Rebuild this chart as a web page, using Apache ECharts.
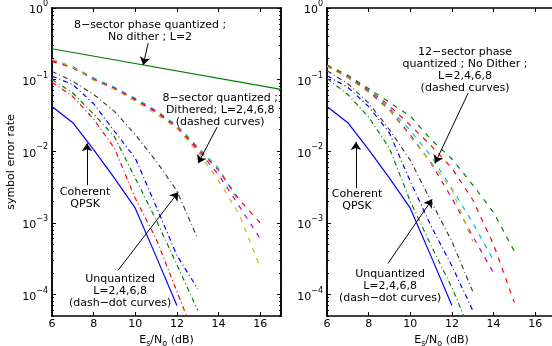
<!DOCTYPE html>
<html>
<head>
<meta charset="utf-8">
<script src="https://cdn.jsdelivr.net/npm/echarts@6/dist/echarts.min.js"></script>
<style>
  html, body { margin: 0; padding: 0; background: #fff; }
  #chart { width: 552px; height: 346px; }
</style>
</head>
<body>
<div id="chart"></div>
<script>
// x values (Es/No in dB)
const snr = [6, 7, 8, 9, 10, 11, 12, 13, 14, 15, 16];
const snrTicks = [6, 8, 10, 12, 14, 16];
const decadeTicks = [1e-4, 1e-3, 1e-2, 1e-1, 1];

// coherent QPSK (both panels)
const coherentQpsk = [0.042, 0.025, 0.0105, 0.0042, 0.0016, 3.4e-4, 7e-5];

// left panel: 8-sector, no dither, L=2 (solid green)
const noDitherX = [6, 17];
const noDitherL2 = [0.27, 0.073];

// left panel: 8-sector dithered, L=2,4,6,8 (dashed)
const dith8Cyan = [0.19, 0.152, 0.106, 0.078, 0.055, 0.037, 0.023, 0.0115, 0.0058, 0.0019];
const dith8Red = [0.18, 0.145, 0.102, 0.075, 0.053, 0.036, 0.022, 0.011, 0.0054, 0.0021, 0.001];
const dith8Magenta = [0.185, 0.148, 0.1, 0.076, 0.052, 0.035, 0.021, 0.0105, 0.0047, 0.0017, 0.0006];
const dith8Yellow = [0.192, 0.15, 0.098, 0.073, 0.05, 0.033, 0.021, 0.0098, 0.0039, 0.0013, 0.00024];

// left panel: unquantized L=2,4,6,8 (dash-dot)
const unqLeftRed = [0.092, 0.058, 0.028, 0.011, 0.0022, 6e-4, 1.1e-4, 2e-5];
const unqLeftGreen = [0.1, 0.065, 0.033, 0.016, 0.0042, 0.0011, 2.6e-4, 6e-5];
const unqLeftBlue = [0.112, 0.085, 0.046, 0.019, 0.008, 0.0017, 3.5e-4, 1.2e-4];
const unqLeftBlack = [0.13, 0.095, 0.062, 0.036, 0.017, 0.0073, 0.0028, 6e-4];

// right panel: 12-sector, no dither, L=2,4,6,8 (dashed)
const q12Green = [0.16, 0.115, 0.075, 0.048, 0.031, 0.0145, 0.0078, 0.0034, 0.0014, 0.0004];
const q12Red = [0.158, 0.112, 0.072, 0.043, 0.023, 0.012, 0.0058, 0.0021, 0.0005, 7.7e-5];
const q12Cyan = [0.156, 0.11, 0.07, 0.04, 0.0196, 0.0085, 0.003, 0.001, 0.0003];
const q12Magenta = [0.155, 0.108, 0.068, 0.038, 0.017, 0.0068, 0.0022, 0.00065, 0.0002];
const q12Yellow = [0.152, 0.106, 0.066, 0.037, 0.016, 0.007, 0.0029, 0.00055];

// right panel: unquantized (dash-dot)
const unqRightGreen = [0.104, 0.062, 0.03, 0.011, 0.002, 4.8e-4, 1.25e-4, 2.5e-5];
const unqRightBlue = [0.113, 0.078, 0.042, 0.018, 0.0038, 9e-4, 2.5e-4, 6e-5];
const unqRightBlack = [0.133, 0.088, 0.047, 0.02, 0.0075, 0.002, 5.5e-4, 1.1e-4];

// annotations in data coords
const leftNotes = [
  { at: [10.71, 0.477], text: '8\u2212sector phase quantized ;\nNo dither ; L=2' },
  { at: [14.08, 0.0374], text: '8\u2212sector quantized ;\nDithered; L=2,4,6,8\n(dashed curves)' },
  { at: [7.59, 0.00224], text: 'Coherent\nQPSK' },
  { at: [9.27, 1.12e-4], text: 'Unquantized\nL=2,4,6,8\n(dash\u2212dot curves)' }
];
const leftArrows = [
  [[10.62, 0.324], [10.38, 0.16]],
  [[13.93, 0.0217], [13.02, 0.00679]],
  [[7.68, 0.00334], [7.68, 0.0129]],
  [[9.17, 2.17e-4], [12.06, 0.00267]]
];
const rightNotes = [
  { at: [12.63, 0.134], text: '12\u2212sector phase\nquantized ; No Dither ;\nL=2,4,6,8\n(dashed curves)' },
  { at: [7.44, 0.00206], text: 'Coherent\nQPSK' },
  { at: [9.03, 1.31e-4], text: 'Unquantized\nL=2,4,6,8\n(dash\u2212dot curves)' }
];
const rightArrows = [
  [[12.78, 0.0648], [11.19, 0.00679]],
  [[7.39, 0.00304], [7.39, 0.0134]],
  [[8.93, 2.71e-4], [11.05, 0.00213]]
];

const FONT = 'DejaVu Sans';
const C = { b: '#0000ff', g: '#008000', r: '#ff0000', c: '#00bfbf', m: '#bf00bf', y: '#bfbf00', k: '#404040' };
const DASH = [5, 6];
const DASHDOT = [5, 3, 1, 3];

const minorTicks = [];
for (let k = -5; k <= -1; k++) {
  for (let m = 2; m <= 9; m++) {
    const v = m * Math.pow(10, k);
    if (v >= 5e-5) minorTicks.push(v);
  }
}

const axisLine = { show: true, lineStyle: { color: '#000', width: 1.5 } };

function expLabel(v) {
  const e = Math.round(Math.log10(v));
  return '{b|10}{e|' + (e === 0 ? '0' : '\u2212' + (-e)) + '}';
}

function yAxes(gridIndex) {
  const base = { type: 'log', logBase: 10, min: 5e-5, max: 1, gridIndex, splitLine: { show: false }, axisLine };
  return [
    Object.assign({}, base, {
      position: 'left',
      axisTick: { inside: true, length: 4, customValues: decadeTicks, lineStyle: { color: '#000' } },
      axisLabel: {
        customValues: decadeTicks, margin: 4, formatter: expLabel,
        rich: {
          b: { fontFamily: FONT, fontSize: 11, color: '#000', lineHeight: 16, verticalAlign: 'bottom' },
          e: { fontFamily: FONT, fontSize: 8, color: '#000', lineHeight: 16, verticalAlign: 'top' }
        }
      },
      name: gridIndex === 0 ? 'symbol error rate' : '',
      nameLocation: 'middle', nameRotate: 90, nameGap: 35,
      nameTextStyle: { fontFamily: FONT, fontSize: 11, color: '#000' }
    }),
    Object.assign({}, base, {
      position: 'left', axisLabel: { show: false },
      axisTick: { inside: true, length: 2, customValues: minorTicks, lineStyle: { color: '#000' } }
    }),
    Object.assign({}, base, {
      position: 'right', axisLabel: { show: false },
      axisTick: { inside: true, length: 4, customValues: decadeTicks, lineStyle: { color: '#000' } }
    }),
    Object.assign({}, base, {
      position: 'right', axisLabel: { show: false },
      axisTick: { inside: true, length: 2, customValues: minorTicks, lineStyle: { color: '#000' } }
    })
  ];
}

function xAxes(gridIndex) {
  const base = { type: 'value', min: 6, max: 17, gridIndex, splitLine: { show: false }, axisLine };
  return [
    Object.assign({}, base, {
      position: 'bottom',
      axisTick: { inside: true, length: 4, customValues: snrTicks, lineStyle: { color: '#000' } },
      axisLabel: { customValues: snrTicks, margin: 3, color: '#000', fontFamily: FONT, fontSize: 11 },
      name: '{a|E}{s|s}{a|/N}{s|o}{a| (dB)}',
      nameLocation: 'middle', nameGap: 14,
      nameTextStyle: {
        rich: {
          a: { fontFamily: FONT, fontSize: 11, color: '#000', lineHeight: 14 },
          s: { fontFamily: FONT, fontSize: 8, color: '#000', padding: [8, 0, 0, 0] }
        }
      }
    }),
    Object.assign({}, base, {
      position: 'top', axisLabel: { show: false },
      axisTick: { inside: true, length: 4, customValues: snrTicks, lineStyle: { color: '#000' } }
    })
  ];
}

function curve(ys, color, type, xi, yi, xs) {
  const xv = xs || snr;
  return {
    type: 'line', xAxisIndex: xi, yAxisIndex: yi, showSymbol: false, silent: true, animation: false,
    lineStyle: { color, width: 1.2, type },
    data: ys.map((v, i) => [xv[i], v])
  };
}

function annotated(ys, xi, yi, notes, arrows) {
  const s = curve(ys, C.b, 'solid', xi, yi);
  s.markLine = {
    silent: true, animation: false, symbol: ['none', 'arrow'], symbolSize: 8,
    label: { show: false },
    lineStyle: { color: '#000', width: 1, type: 'solid' },
    data: arrows.map(a => [{ coord: a[0] }, { coord: a[1] }])
  };
  s.markPoint = {
    silent: true, animation: false, symbol: 'circle', symbolSize: 0,
    data: notes.map(n => ({
      coord: n.at,
      label: {
        show: true, position: 'inside', formatter: n.text, align: 'center',
        fontFamily: FONT, fontSize: 11, lineHeight: 12, color: '#000'
      }
    }))
  };
  return s;
}

const chart = echarts.init(document.getElementById('chart'), null, { renderer: 'canvas' });
chart.setOption({
  animation: false,
  backgroundColor: '#fff',
  grid: [
    { left: 52, top: 8, width: 229, height: 308, outerBoundsMode: 'none', containLabel: false },
    { left: 327, top: 8, width: 229, height: 308, outerBoundsMode: 'none', containLabel: false }
  ],
  xAxis: [].concat(xAxes(0), xAxes(1)),
  yAxis: [].concat(yAxes(0), yAxes(1)),
  series: [
    // left panel
    curve(noDitherL2, C.g, 'solid', 0, 0, noDitherX),
    curve(dith8Cyan, C.c, DASH, 0, 0),
    curve(dith8Red, C.r, DASH, 0, 0),
    curve(dith8Magenta, C.m, DASH, 0, 0),
    curve(dith8Yellow, C.y, DASH, 0, 0),
    curve(unqLeftRed, C.r, DASHDOT, 0, 0),
    curve(unqLeftGreen, C.g, DASHDOT, 0, 0),
    curve(unqLeftBlue, C.b, DASHDOT, 0, 0),
    curve(unqLeftBlack, C.k, DASHDOT, 0, 0),
    annotated(coherentQpsk, 0, 0, leftNotes, leftArrows),
    // right panel
    curve(q12Green, C.g, DASH, 2, 4),
    curve(q12Red, C.r, DASH, 2, 4),
    curve(q12Cyan, C.c, DASH, 2, 4),
    curve(q12Magenta, C.m, DASH, 2, 4),
    curve(q12Yellow, C.y, DASH, 2, 4),
    curve(unqRightGreen, C.g, DASHDOT, 2, 4),
    curve(unqRightBlue, C.b, DASHDOT, 2, 4),
    curve(unqRightBlack, C.k, DASHDOT, 2, 4),
    annotated(coherentQpsk, 2, 4, rightNotes, rightArrows)
  ]
});
</script>
</body>
</html>
